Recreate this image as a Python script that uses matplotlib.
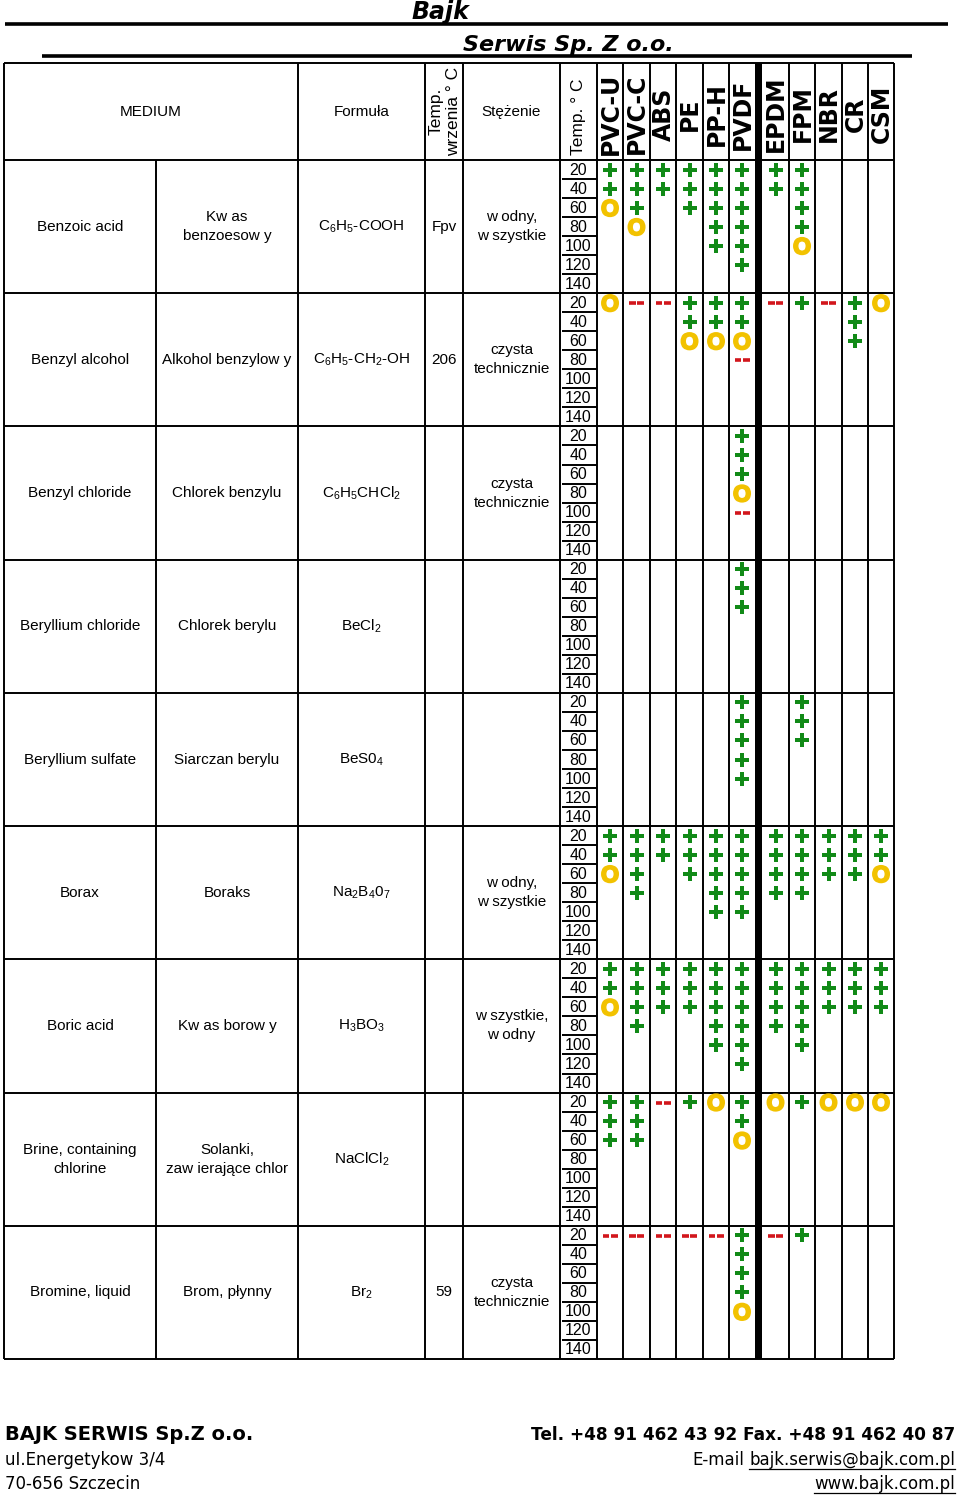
import matplotlib
matplotlib.use('Agg')
import matplotlib.pyplot as plt
from matplotlib.patches import Rectangle
import matplotlib.patheffects as pe_fx

plt.rcParams['mathtext.fontset'] = 'custom'
plt.rcParams['mathtext.rm'] = 'Liberation Sans'
plt.rcParams['mathtext.it'] = 'Liberation Sans'

# ---------------- data ----------------
media_en = ['Benzoic acid', 'Benzyl alcohol', 'Benzyl chloride', 'Beryllium chloride',
            'Beryllium sulfate', 'Borax', 'Boric acid', 'Brine, containing\nchlorine',
            'Bromine, liquid']
media_pl = ['Kw as\nbenzoesow y', 'Alkohol benzylow y', 'Chlorek benzylu', 'Chlorek berylu',
            'Siarczan berylu', 'Boraks', 'Kw as borow y', 'Solanki,\nzaw ierające chlor',
            'Brom, płynny']
formulas = ['C$_6$H$_5$-COOH', 'C$_6$H$_5$-CH$_2$-OH', 'C$_6$H$_5$CHCl$_2$', 'BeCl$_2$',
            'BeS0$_4$', 'Na$_2$B$_4$0$_7$', 'H$_3$BO$_3$', 'NaClCl$_2$', 'Br$_2$']
boiling = ['Fpv', '206', '', '', '', '', '', '', '59']
concentration = ['w odny,\nw szystkie', 'czysta\ntechnicznie', 'czysta\ntechnicznie', '', '',
                 'w odny,\nw szystkie', 'w szystkie,\nw odny', '', 'czysta\ntechnicznie']
temps = ['20', '40', '60', '80', '100', '120', '140']
materials = ['PVC-U', 'PVC-C', 'ABS', 'PE', 'PP-H', 'PVDF', 'EPDM', 'FPM', 'NBR', 'CR', 'CSM']

# ratings per material, one string per medium (index = temperature row)
# '+' resistant, 'o' limited resistance, '-' not resistant
pvc_u = ['++o', 'o', '', '', '', '++o', '++o', '+++', '-']
pvc_c = ['+++o', '-', '', '', '', '++++', '++++', '+++', '-']
abs_r = ['++', '-', '', '', '', '++', '+++', '-', '-']
pe = ['+++', '++o', '', '', '', '+++', '+++', '+', '-']
pp_h = ['+++++', '++o', '', '', '', '+++++', '+++++', 'o', '-']
pvdf = ['++++++', '++o-', '+++o-', '+++', '+++++', '+++++', '++++++', '++o', '++++o']
epdm = ['++', '-', '', '', '', '++++', '++++', 'o', '-']
fpm = ['++++o', '+', '', '', '+++', '++++', '+++++', '+', '+']
nbr = ['', '-', '', '', '', '+++', '+++', 'o', '']
cr = ['', '+++', '', '', '', '+++', '+++', 'o', '']
csm = ['', 'o', '', '', '', '++o', '+++', 'o', '']
ratings = [pvc_u, pvc_c, abs_r, pe, pp_h, pvdf, epdm, fpm, nbr, cr, csm]

# ---------------- layout ----------------
W, H = 960, 1496
fig = plt.figure(figsize=(W / 100, H / 100), dpi=100)
ax = fig.add_axes([0, 0, 1, 1])
ax.set_xlim(0, W)
ax.set_ylim(H, 0)
ax.axis('off')

LW = 1.4
SANS = ['Liberation Sans', 'DejaVu Sans']
FOOT = ['DejaVu Sans']
GREEN = '#118a17'
YELLOW = '#f2c200'
RED = '#d2161c'

x_left = 4
x_right = 894
x_med_split = 156
x_formula = 298
x_boil = 425
x_conc = 463
x_temp = 560
x_mat0 = 597
mat_edges = [597, 623, 650, 676, 703, 729, 755, 762, 789, 815, 842, 868, 894]
bar_x0, bar_x1 = 755, 762
mat_centers = [610, 636.5, 663, 689.5, 716, 742, 775.5, 802, 828.5, 855, 881]

y_head = 63
y_body = 160
y_end = 1359
n_groups = len(media_en)
gh = (y_end - y_body) / n_groups
rh = gh / len(temps)

# ----- title -----
ax.text(440, 12, 'Bajk', fontsize=17, fontweight='bold', fontstyle='italic',
        family=['DejaVu Sans'], ha='center', va='center')
ax.plot([5, 948], [23.5, 23.5], color='black', lw=2.6, solid_capstyle='butt')
ax.text(568, 45, 'Serwis Sp. Z o.o.', fontsize=16, fontweight='bold', fontstyle='italic',
        family=['DejaVu Sans'], ha='center', va='center')
ax.plot([42, 912], [56, 56], color='black', lw=2.6, solid_capstyle='butt')

# ----- grid lines -----
ax.hlines([y_head, y_body], x_left, x_right, color='black', lw=LW)
for g in range(1, n_groups + 1):
    ax.hlines(y_body + g * gh, x_left, x_right, color='black', lw=LW)
head_v = [x_left, x_formula, x_boil, x_conc, x_temp] + [e for e in mat_edges if e not in (bar_x0, bar_x1)]
ax.vlines(head_v, y_head, y_end, color='black', lw=LW)
ax.vlines([x_med_split], y_body, y_end, color='black', lw=LW)
ax.add_patch(Rectangle((bar_x0, y_head), bar_x1 - bar_x0, y_end - y_head, color='black', lw=0))

# ----- header text -----
hy = (y_head + y_body) / 2
ax.text((x_left + x_formula) / 2, hy, 'MEDIUM', fontsize=11, family=SANS, ha='center', va='center')
ax.text((x_formula + x_boil) / 2, hy, 'Formuła', fontsize=11, family=SANS, ha='center', va='center')
ax.text((x_boil + x_conc) / 2 + 1, hy, 'Temp.\nwrzenia ° C', fontsize=12.5, family=SANS,
        ha='center', va='center', rotation=90, multialignment='center', linespacing=1.2)
ax.text((x_conc + x_temp) / 2, hy, 'Stężenie', fontsize=11, family=SANS, ha='center', va='center')
ax.text((x_temp + x_mat0) / 2, 117, 'Temp. ° C', fontsize=12.5, family=SANS,
        ha='center', va='center', rotation=90)
for name, cx in zip(materials, mat_centers):
    ax.text(cx + 0.5, 114, name, fontsize=17, fontweight='bold', family=['DejaVu Sans'],
            ha='center', va='center', rotation=90)

# ----- body text -----
for g in range(n_groups):
    top = y_body + g * gh
    cy = top + gh / 2
    ax.text((x_left + x_med_split) / 2, cy, media_en[g], fontsize=11, family=SANS,
            ha='center', va='center', linespacing=1.45)
    ax.text((x_med_split + x_formula) / 2, cy, media_pl[g], fontsize=11, family=SANS,
            ha='center', va='center', linespacing=1.45)
    ax.text((x_formula + x_boil) / 2, cy, formulas[g], fontsize=11, family=SANS,
            ha='center', va='center')
    ax.text((x_boil + x_conc) / 2, cy, boiling[g], fontsize=11, family=SANS,
            ha='center', va='center')
    ax.text((x_conc + x_temp) / 2, cy, concentration[g], fontsize=11, family=SANS,
            ha='center', va='center', linespacing=1.45)
    for r, t in enumerate(temps):
        ry = top + (r + 0.5) * rh
        ax.text((x_temp + x_mat0) / 2, ry + 0.5, t, fontsize=11.5, family=SANS,
                ha='center', va='center')
        if r < len(temps) - 1:
            ax.hlines(top + (r + 1) * rh, x_temp + 2, x_mat0, color='black', lw=LW)

# ----- ratings -----
plus_x, plus_y = [], []
dash_y, dash_x0, dash_x1 = [], [], []
for m, mat in enumerate(ratings):
    cx = mat_centers[m]
    for g, s in enumerate(mat):
        top = y_body + g * gh
        for r, ch in enumerate(s):
            ry = top + (r + 0.5) * rh
            if ch == '+':
                plus_x.append(cx)
                plus_y.append(ry)
            elif ch == 'o':
                ax.text(cx, ry + 1.8, 'O', fontsize=16.5, fontweight='bold', family=SANS,
                        color=YELLOW, ha='center', va='center',
                        path_effects=[pe_fx.withStroke(linewidth=1.5, foreground=YELLOW)])
            elif ch == '-':
                dash_y += [ry + 0.5, ry + 0.5]
                dash_x0 += [cx - 7.5, cx + 0.8]
                dash_x1 += [cx - 0.8, cx + 7.5]
ax.hlines(dash_y, dash_x0, dash_x1, color=RED, lw=2.6, capstyle='butt', zorder=3)
ax.scatter(plus_x, plus_y, marker='P', s=90, color=GREEN, linewidths=0, zorder=3)

# ----- footer -----
ax.text(5, 1435, 'BAJK SERWIS Sp.Z o.o.', fontsize=14, fontweight='bold', family=FOOT,
        ha='left', va='center')
ax.text(5, 1460, 'uI.Energetykow 3/4', fontsize=12, family=FOOT, ha='left', va='center')
ax.text(5, 1484, '70-656 Szczecin', fontsize=12, family=FOOT, ha='left', va='center')
ax.text(955, 1435, 'Tel. +48 91 462 43 92 Fax. +48 91 462 40 87', fontsize=12.2,
        fontweight='bold', family=FOOT, ha='right', va='center')
t_mail = ax.text(955, 1460, 'bajk.serwis@bajk.com.pl', fontsize=12, family=FOOT,
                 ha='right', va='center')
t_www = ax.text(955, 1484, 'www.bajk.com.pl', fontsize=12, family=FOOT, ha='right', va='center')

fig.canvas.draw()
inv = ax.transData.inverted()
for t, yy in ((t_mail, 1460), (t_www, 1484)):
    bb = t.get_window_extent()
    (x0, _), (x1, _) = inv.transform([(bb.x0, bb.y0), (bb.x1, bb.y1)])
    ax.plot([x0, x1], [yy + 9, yy + 9], color='black', lw=0.9)
    if t is t_mail:
        ax.text(x0 - 5, yy, 'E-mail', fontsize=12, family=FOOT, ha='right', va='center')

fig.savefig('out.png', dpi=100)
